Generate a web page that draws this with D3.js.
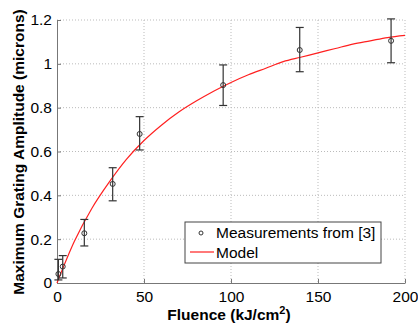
<!DOCTYPE html>
<html>
<head>
<meta charset="utf-8">
<script src="https://cdn.jsdelivr.net/npm/d3@7"></script>
<style>
  body { margin: 0; background: #fff; }
  text { font-family: "Liberation Sans", Arial, sans-serif; }
</style>
</head>
<body>
<svg width="418" height="327"></svg>
<script>
// measured points with error bars
const fluence = [0.8, 3.3, 15.7, 32, 47.5, 95.5, 139.5, 192];
const amplitude = [0.041, 0.075, 0.227, 0.452, 0.68, 0.903, 1.063, 1.105];
const errLow = [0.014, 0.023, 0.169, 0.375, 0.607, 0.81, 0.964, 1.005];
const errHigh = [0.108, 0.125, 0.29, 0.526, 0.759, 0.995, 1.166, 1.205];

// model curve
const modelX = [0, 10, 20, 30, 40, 50, 60, 70, 80, 90, 100, 110, 120, 130, 140, 150, 160, 170, 180, 190, 200];
const modelY = [0, 0.19, 0.34, 0.46, 0.565, 0.65, 0.72, 0.78, 0.83, 0.875, 0.915, 0.95, 0.98, 1.01, 1.03, 1.05, 1.07, 1.09, 1.105, 1.12, 1.13];

const xTicks = [0, 50, 100, 150, 200];
const yTicks = [0, 0.2, 0.4, 0.6, 0.8, 1, 1.2];

const svg = d3.select('svg');
const mLeft = 57, mRight = 405, mTop = 20, mBottom = 283;

const x = d3.scaleLinear().domain([0, 200]).range([mLeft, mRight]);
const y = d3.scaleLinear().domain([0, 1.2]).range([mBottom, mTop]);

// grid
svg.append('g')
  .selectAll('line')
  .data(xTicks.slice(1))
  .enter().append('line')
  .attr('x1', d => x(d)).attr('x2', d => x(d))
  .attr('y1', mTop).attr('y2', mBottom)
  .attr('stroke', '#bbb').attr('stroke-dasharray', '1,2');
svg.append('g')
  .selectAll('line')
  .data(yTicks.slice(1))
  .enter().append('line')
  .attr('x1', mLeft).attr('x2', mRight)
  .attr('y1', d => y(d)).attr('y2', d => y(d))
  .attr('stroke', '#bbb').attr('stroke-dasharray', '1,2');

// axes
const xAxis = d3.axisBottom(x).tickValues(xTicks).tickSizeInner(-4).tickSizeOuter(0).tickPadding(8).tickFormat(d3.format('d'));
const yAxis = d3.axisLeft(y).tickValues(yTicks).tickSizeInner(-4).tickSizeOuter(0).tickPadding(5).tickFormat(d => d === 0 ? '0' : d === 1 ? '1' : d3.format('.1f')(d));

const gx = svg.append('g').attr('transform', `translate(0,${mBottom})`).call(xAxis);
const gy = svg.append('g').attr('transform', `translate(${mLeft},0)`).call(yAxis);
[gx, gy].forEach(g => {
  g.select('.domain').attr('stroke', '#777');
  g.selectAll('.tick line').attr('stroke', '#777');
  g.selectAll('.tick text').attr('fill', '#000').style('font-size', '15.5px');
});

// model line
const line = d3.line()
  .x((d, i) => x(modelX[i]))
  .y(d => y(d))
  .curve(d3.curveMonotoneX);
svg.append('path')
  .datum(modelY)
  .attr('d', line)
  .attr('fill', 'none')
  .attr('stroke', '#ff2020')
  .attr('stroke-width', 1.2);

// error bars + markers
const pts = fluence.map((f, i) => ({ f: f, a: amplitude[i], lo: errLow[i], hi: errHigh[i] }));
const eb = svg.append('g').attr('stroke', '#333').attr('stroke-width', 1.2);
pts.forEach(p => {
  eb.append('line').attr('x1', x(p.f)).attr('x2', x(p.f)).attr('y1', y(p.lo)).attr('y2', y(p.hi));
  eb.append('line').attr('x1', x(p.f) - 4).attr('x2', x(p.f) + 4).attr('y1', y(p.lo)).attr('y2', y(p.lo));
  eb.append('line').attr('x1', x(p.f) - 4).attr('x2', x(p.f) + 4).attr('y1', y(p.hi)).attr('y2', y(p.hi));
});
svg.append('g')
  .selectAll('circle')
  .data(pts)
  .enter().append('circle')
  .attr('cx', d => x(d.f)).attr('cy', d => y(d.a))
  .attr('r', 2.5)
  .attr('fill', 'none')
  .attr('stroke', '#333');

// axis titles
const xt = svg.append('text')
  .attr('x', 229).attr('y', 320)
  .attr('text-anchor', 'middle')
  .style('font-size', '15.5px').style('font-weight', 'bold')
  .text('Fluence (kJ/cm');
xt.append('tspan').attr('dy', -6).style('font-size', '11px').text('2');
xt.append('tspan').attr('dy', 6).text(')');

svg.append('text')
  .attr('transform', 'translate(24,152) rotate(-90)')
  .attr('text-anchor', 'middle')
  .style('font-size', '15.5px').style('font-weight', 'bold')
  .text('Maximum Grating Amplitude (microns)');

// legend
const lg = svg.append('g');
lg.append('rect')
  .attr('x', 185).attr('y', 222).attr('width', 196).attr('height', 41)
  .attr('fill', '#fff').attr('stroke', '#444');
lg.append('circle').attr('cx', 201).attr('cy', 233).attr('r', 2).attr('fill', 'none').attr('stroke', '#333');
lg.append('text').attr('x', 216).attr('y', 238).style('font-size', '15.5px').text('Measurements from [3]');
lg.append('line').attr('x1', 190).attr('x2', 214).attr('y1', 252).attr('y2', 252).attr('stroke', '#ff2020').attr('stroke-width', 1.2);
lg.append('text').attr('x', 216).attr('y', 258).style('font-size', '15.5px').text('Model');
</script>
</body>
</html>
